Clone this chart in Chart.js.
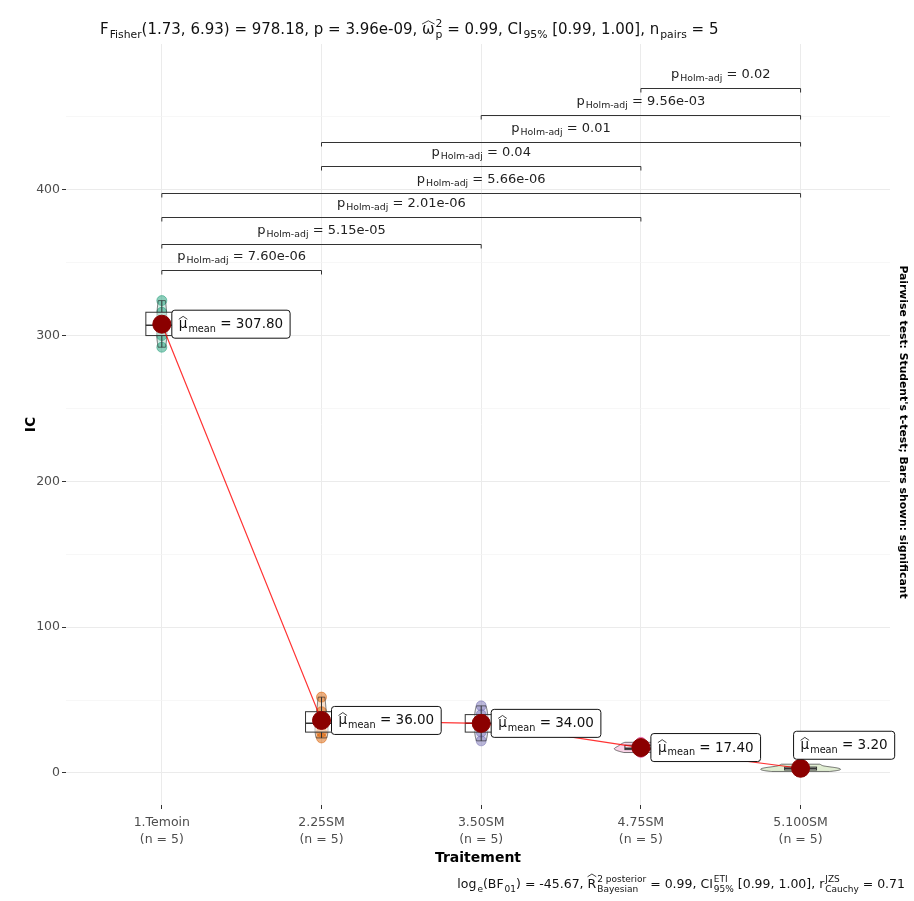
<!DOCTYPE html>
<html>
<head>
<meta charset="utf-8">
<script src="https://cdn.jsdelivr.net/npm/chart.js@4.4.1/dist/chart.umd.min.js"></script>
<style>
  body { margin: 0; background: #fff; }
</style>
</head>
<body>
<canvas id="chart" width="914" height="901"></canvas>
<script>
// --- data ---
const groups = ['1.Temoin', '2.25SM', '3.50SM', '4.75SM', '5.100SM'];
const groupN = ['(n = 5)', '(n = 5)', '(n = 5)', '(n = 5)', '(n = 5)'];
const icTemoin = [292, 300, 307, 316, 324];
const ic25 = [24, 28, 34, 42, 52];
const ic50 = [22, 28, 34, 40, 46];
const ic75 = [14, 16, 17, 19, 21];
const ic100 = [1, 2, 3, 4, 6];
const yTicks = [0, 50, 100, 150, 200, 250, 300, 350, 400, 450];

// pairwise comparisons (only significant ones are shown)
const pairFrom = [1, 1, 1, 1, 2, 2, 3, 4];
const pairTo = [2, 3, 4, 5, 4, 5, 5, 5];
const pairP = ['7.60e-06', '5.15e-05', '2.01e-06', '5.66e-06', '0.04', '0.01', '9.56e-03', '0.02'];
const pairY = [345, 363, 381, 398, 416, 433, 451, 470];

const allValues = [icTemoin, ic25, ic50, ic75, ic100];
const palette = ['#1B9E77', '#D95F02', '#7570B3', '#E7298A', '#66A61E'];
const FONT = '"DejaVu Sans", Verdana, sans-serif';

const means = allValues.map(v => v.reduce((a, b) => a + b, 0) / v.length);

function quantile(arr, p) {
  const s = [...arr].sort((a, b) => a - b);
  const h = (s.length - 1) * p, lo = Math.floor(h);
  return s[lo] + (h - lo) * ((s[lo + 1] ?? s[lo]) - s[lo]);
}

function sd(arr) {
  const m = arr.reduce((a, b) => a + b, 0) / arr.length;
  return Math.sqrt(arr.reduce((a, b) => a + (b - m) ** 2, 0) / (arr.length - 1));
}

// gaussian kde, bandwidth like R's bw.nrd0, trimmed to the data range
function kde(vals) {
  const bw = 0.9 * Math.min(sd(vals), (quantile(vals, 0.75) - quantile(vals, 0.25)) / 1.34) * Math.pow(vals.length, -0.2);
  const lo = Math.min(...vals), hi = Math.max(...vals);
  const out = [];
  for (let k = 0; k <= 60; k++) {
    const v = lo + (hi - lo) * k / 60;
    let d = 0;
    vals.forEach(x => { d += Math.exp(-0.5 * ((v - x) / bw) ** 2); });
    out.push([v, d / (vals.length * bw * Math.sqrt(2 * Math.PI))]);
  }
  return out;
}

function hexA(hex, a) {
  const n = parseInt(hex.slice(1), 16);
  return `rgba(${n >> 16},${(n >> 8) & 255},${n & 255},${a})`;
}

// text with subscripts / superscripts / hats; returns its width
function rich(ctx, segs, x, y, size, align, color, measureOnly) {
  const small = size * 0.72;
  const w = (t, s) => { if (!t) return 0; ctx.font = s + 'px ' + FONT; return ctx.measureText(t).width; };
  const widths = segs.map(s => w(s.t, size) + Math.max(w(s.sub, small), w(s.sup, small)) + (s.sub || s.sup ? 1 : 0));
  const total = widths.reduce((a, b) => a + b, 0);
  if (measureOnly) return total;
  let cx = align === 'center' ? x - total / 2 : align === 'right' ? x - total : x;
  ctx.fillStyle = color;
  ctx.strokeStyle = color;
  ctx.textAlign = 'left';
  ctx.textBaseline = 'alphabetic';
  segs.forEach((s, i) => {
    const mw = w(s.t, size);
    if (s.t) { ctx.font = size + 'px ' + FONT; ctx.fillText(s.t, cx, y); }
    if (s.hat) {
      const top = y - size * (s.hat === 'hi' ? 0.9 : 0.66);
      ctx.lineWidth = 0.8;
      ctx.beginPath();
      ctx.moveTo(cx, top);
      ctx.lineTo(cx + mw / 2, top - size * 0.22);
      ctx.lineTo(cx + mw, top);
      ctx.stroke();
    }
    ctx.font = small + 'px ' + FONT;
    if (s.sub) ctx.fillText(s.sub, cx + mw + 1, y + size * 0.28);
    if (s.sup) ctx.fillText(s.sup, cx + mw + 1, y - size * 0.45);
    cx += widths[i];
  });
  return total;
}

const densities = allValues.map(kde);
const maxDens = Math.max(...densities.map(d => Math.max(...d.map(p => p[1]))));

function drawViolinsAndBoxes(chart) {
  const { ctx, scales: { x, y } } = chart;
  ctx.save();
  ctx.beginPath();
  ctx.rect(chart.chartArea.left, chart.chartArea.top, chart.chartArea.right - chart.chartArea.left, chart.chartArea.bottom - chart.chartArea.top);
  ctx.clip();
  densities.forEach((dens, i) => {
    const c = i + 1;
    ctx.beginPath();
    dens.forEach(([v, d], k) => {
      const px = x.getPixelForValue(c - 0.25 * d / maxDens), py = y.getPixelForValue(v);
      k ? ctx.lineTo(px, py) : ctx.moveTo(px, py);
    });
    for (let k = dens.length - 1; k >= 0; k--) {
      const [v, d] = dens[k];
      ctx.lineTo(x.getPixelForValue(c + 0.25 * d / maxDens), y.getPixelForValue(v));
    }
    ctx.closePath();
    ctx.fillStyle = hexA(palette[i], 0.2);
    ctx.fill();
    ctx.strokeStyle = 'rgba(40,40,40,0.8)';
    ctx.lineWidth = 0.8;
    ctx.stroke();
  });
  allValues.forEach((vals, i) => {
    const q1 = quantile(vals, 0.25), q2 = quantile(vals, 0.5), q3 = quantile(vals, 0.75);
    const iqr = q3 - q1;
    const lo = Math.min(...vals.filter(v => v >= q1 - 1.5 * iqr));
    const hi = Math.max(...vals.filter(v => v <= q3 + 1.5 * iqr));
    const xl = x.getPixelForValue(i + 1 - 0.1), xr = x.getPixelForValue(i + 1 + 0.1);
    const xc = x.getPixelForValue(i + 1);
    ctx.strokeStyle = '#333';
    ctx.lineWidth = 1;
    ctx.beginPath();
    ctx.moveTo(xc, y.getPixelForValue(hi)); ctx.lineTo(xc, y.getPixelForValue(q3));
    ctx.moveTo(xc, y.getPixelForValue(q1)); ctx.lineTo(xc, y.getPixelForValue(lo));
    ctx.stroke();
    ctx.fillStyle = 'rgba(255,255,255,0.5)';
    const yt = y.getPixelForValue(q3), yb = y.getPixelForValue(q1);
    ctx.fillRect(xl, yt, xr - xl, yb - yt);
    ctx.strokeRect(xl, yt, xr - xl, yb - yt);
    ctx.beginPath();
    ctx.lineWidth = 1.5;
    ctx.moveTo(xl, y.getPixelForValue(q2)); ctx.lineTo(xr, y.getPixelForValue(q2));
    ctx.stroke();
  });
  ctx.restore();
}

const labelNudge = [[10, 0], [10, 0], [10, 0], [10, 0], [-7, -23]];

const annotPlugin = {
  id: 'annot',
  beforeDatasetDraw(chart, args) {
    // violins and boxes sit above the subject points, below the mean path
    if (args.index === 5) drawViolinsAndBoxes(chart);
  },
  afterDatasetsDraw(chart) {
    const { ctx, scales: { x, y } } = chart;
    ctx.save();
    // mean labels
    means.forEach((m, i) => {
      const segs = [{ t: 'μ', hat: 'lo', sub: 'mean' }, { t: ' = ' + m.toFixed(2) }];
      const tw = rich(ctx, segs, 0, 0, 13.5, 'left', '#111', true);
      const bx = x.getPixelForValue(i + 1) + labelNudge[i][0];
      const by = y.getPixelForValue(m) + labelNudge[i][1];
      const bw = tw + 14, bh = 28;
      ctx.fillStyle = '#fff';
      ctx.strokeStyle = '#111';
      ctx.lineWidth = 1;
      ctx.beginPath();
      ctx.roundRect(bx, by - bh / 2, bw, bh, 3);
      ctx.fill();
      ctx.stroke();
      rich(ctx, segs, bx + 7, by + 4, 13.5, 'left', '#111');
    });
    // significance brackets
    pairFrom.forEach((a, i) => {
      const x1 = x.getPixelForValue(a), x2 = x.getPixelForValue(pairTo[i]);
      const yy = Math.round(y.getPixelForValue(pairY[i])) + 0.5;
      ctx.strokeStyle = '#333';
      ctx.lineWidth = 1;
      ctx.beginPath();
      ctx.moveTo(x1, yy + 4); ctx.lineTo(x1, yy); ctx.lineTo(x2, yy); ctx.lineTo(x2, yy + 4);
      ctx.stroke();
      rich(ctx, [{ t: 'p', sub: 'Holm-adj' }, { t: ' = ' + pairP[i] }], (x1 + x2) / 2, yy - 11, 13, 'center', '#222');
    });
    ctx.restore();
  },
  afterDraw(chart) {
    const { ctx, chartArea } = chart;
    ctx.save();
    // subtitle
    rich(ctx, [
      { t: 'F', sub: 'Fisher' }, { t: '(1.73, 6.93) = 978.18, p = 3.96e-09, ' },
      { t: 'ω', hat: 'lo', sup: '2', sub: 'p' }, { t: ' = 0.99, CI', sub: '95%' },
      { t: ' [0.99, 1.00], n', sub: 'pairs' }, { t: ' = 5' }
    ], 100, 34, 15, 'left', '#111');
    // caption
    rich(ctx, [
      { t: 'log', sub: 'e' }, { t: '(BF', sub: '01' }, { t: ') = -45.67, ' },
      { t: 'R', hat: 'hi', sup: '2 posterior', sub: 'Bayesian' }, { t: ' = 0.99, CI', sup: 'ETI', sub: '95%' },
      { t: ' [0.99, 1.00], r', sup: 'JZS', sub: 'Cauchy' }, { t: ' = 0.71' }
    ], 905, 888, 12.5, 'right', '#111');
    // axis titles
    ctx.fillStyle = '#000';
    ctx.font = 'bold 14px ' + FONT;
    ctx.textAlign = 'center';
    ctx.textBaseline = 'middle';
    ctx.fillText('Traitement', (chartArea.left + chartArea.right) / 2, 858);
    ctx.save();
    ctx.translate(31, (chartArea.top + chartArea.bottom) / 2);
    ctx.rotate(-Math.PI / 2);
    ctx.fillText('IC', 0, 0);
    ctx.restore();
    ctx.save();
    ctx.translate(903, 432);
    ctx.rotate(Math.PI / 2);
    ctx.font = 'bold 10.8px ' + FONT;
    ctx.fillText("Pairwise test: Student's t-test; Bars shown: significant", 0, 0);
    ctx.restore();
    ctx.restore();
  }
};

const pointSets = allValues.map((vals, i) => ({
  type: 'scatter',
  data: vals.map(v => ({ x: i + 1, y: v })),
  backgroundColor: hexA(palette[i], 0.5),
  borderColor: hexA(palette[i], 0.5),
  pointRadius: 5,
  order: 3
}));

new Chart(document.getElementById('chart'), {
  type: 'scatter',
  data: {
    datasets: [
      ...pointSets,
      {
        type: 'line',
        data: means.map((m, i) => ({ x: i + 1, y: m })),
        borderColor: 'rgba(255,0,0,0.8)',
        borderWidth: 1.2,
        pointRadius: 0,
        order: 2
      },
      {
        type: 'scatter',
        data: means.map((m, i) => ({ x: i + 1, y: m })),
        backgroundColor: '#8B0000',
        borderColor: '#8B0000',
        pointRadius: 9,
        order: 1
      }
    ]
  },
  options: {
    responsive: false,
    animation: false,
    devicePixelRatio: 1,
    layout: { padding: { top: 44, right: 24, left: 0, bottom: 0 } },
    plugins: { legend: { display: false }, tooltip: { enabled: false } },
    scales: {
      x: {
        type: 'linear',
        min: 0.4,
        max: 5.56,
        afterFit: s => { s.height = 96; },
        afterBuildTicks: s => { s.ticks = groups.map((g, i) => ({ value: i + 1 })); },
        ticks: {
          callback: v => [groups[v - 1], groupN[v - 1]],
          color: '#4D4D4D',
          font: { size: 12.5, family: FONT, lineHeight: 1.3 },
          padding: 6
        },
        grid: { color: '#EBEBEB', tickColor: '#333', tickLength: 4 },
        border: { display: false }
      },
      y: {
        min: -22,
        max: 500,
        afterFit: s => { s.width = 66; },
        afterBuildTicks: s => { s.ticks = yTicks.map(v => ({ value: v })); },
        ticks: {
          callback: v => (v % 100 === 0 ? String(v) : ''),
          color: '#4D4D4D',
          font: { size: 12.5, family: FONT },
          padding: 2
        },
        grid: {
          color: c => (c.tick && c.tick.value % 100 === 0 ? '#EBEBEB' : '#F4F4F4'),
          lineWidth: c => (c.tick && c.tick.value % 100 === 0 ? 1 : 0.7),
          tickColor: c => (c.tick && c.tick.value % 100 === 0 ? '#333' : 'rgba(0,0,0,0)'),
          tickLength: 4
        },
        border: { display: false }
      }
    }
  },
  plugins: [annotPlugin]
});
</script>
</body>
</html>
